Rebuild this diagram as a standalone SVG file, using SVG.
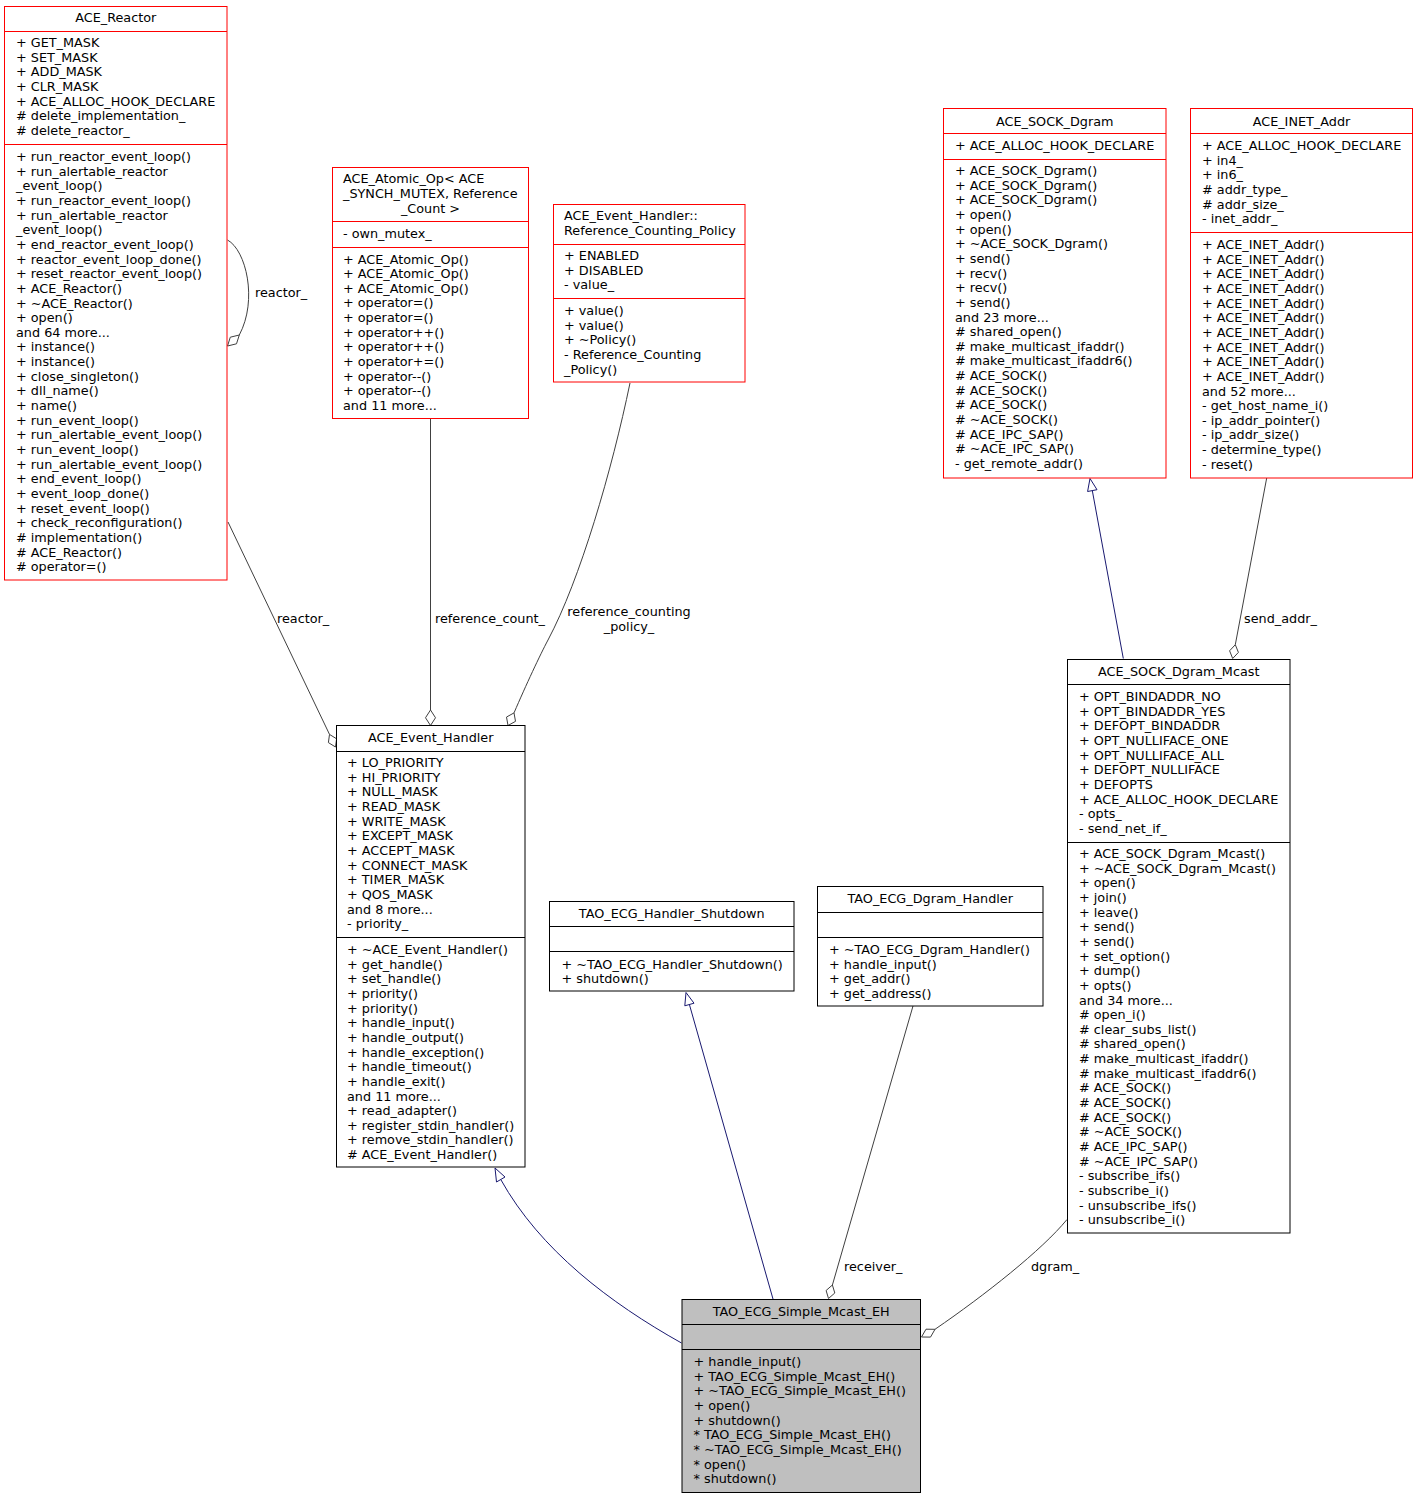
<svg xmlns="http://www.w3.org/2000/svg" width="1417" height="1499" viewBox="0 0 1417 1499">
<style>
text{font-family:"DejaVu Sans","Liberation Sans",sans-serif;font-size:12.8px;fill:#000;transform:translateY(1px)}
.m{text-anchor:middle}
.rb{fill:#fff;stroke:#ff0000;stroke-width:1}
.kb{fill:#fff;stroke:#000;stroke-width:1}
.gb{fill:#bfbfbf;stroke:#000;stroke-width:1}
.rl{stroke:#ff0000;stroke-width:1}
.kl{stroke:#000;stroke-width:1}
.e{fill:none;stroke:#404040;stroke-width:1}
.i{fill:none;stroke:#191970;stroke-width:1}
.d{fill:#fff;stroke:#404040;stroke-width:1}
.t{fill:#fff;stroke:#191970;stroke-width:1}
</style>
<rect width="1417" height="1499" fill="#fff"/>
<g id="connectors">
<path class="e" d="M227.5,240 C246,250 258,300 239.3,335"/>
<polygon class="d" points="227.5,346 236.5,343.8 239.3,335 230.3,337.2"/>
<text x="255" y="296">reactor_</text>
<path class="e" d="M228,522 L329.5,734.4"/>
<polygon class="d" points="335.5,747 336.6,738.8 329.5,734.4 328.4,742.6"/>
<text x="277" y="622">reactor_</text>
<path class="e" d="M430.5,419 L430.5,710"/>
<polygon class="d" points="430.5,725.5 435.5,717.75 430.5,710 425.5,717.75"/>
<text x="435" y="622">reference_count_</text>
<path class="e" d="M630,383 C612,470 580,580 548,640 C540,655 526,685 514,712.9"/>
<polygon class="d" points="508,725.5 515.5,721.35 514,712.9 506.5,717.05"/>
<text class="m" x="629" y="615">reference_counting</text>
<text class="m" x="629" y="630">_policy_</text>
<path class="e" d="M1266.7,478 L1235.3,644.7"/>
<polygon class="d" points="1232.7,658.5 1238.4,652.4 1235.3,644.7 1229.6,650.8"/>
<text x="1244" y="622">send_addr_</text>
<path class="e" d="M913,1006 L832.4,1285"/>
<polygon class="d" points="828.5,1298.5 834.8,1293 832.4,1285 826.1,1290.5"/>
<text x="844" y="1269.5">receiver_</text>
<path class="e" d="M1067,1219.5 C1042,1250 985,1295 935,1329.3"/>
<polygon class="d" points="921.5,1337 930.5,1337.1 935,1329.3 926,1329.2"/>
<text x="1031" y="1269.5">dgram_</text>
<path class="i" d="M681.5,1343 C610,1303 540,1250 500.75,1179.5"/>
<polygon class="t" points="495,1168 496.5,1182 505,1177"/>
<path class="i" d="M773,1299 L689.4,1004.5"/>
<polygon class="t" points="686,992.5 694,1003.2 684.8,1005.8"/>
<path class="i" d="M1123.3,658.5 L1092.3,490.6"/>
<polygon class="t" points="1090,478.5 1097,489.7 1087.6,491.5"/>
</g>
<g id="ACE_Reactor">
<rect class="rb" x="4.5" y="6.5" width="222.5" height="573.5"/>
<line class="rl" x1="4.5" y1="31.5" x2="227" y2="31.5"/>
<line class="rl" x1="4.5" y1="144.5" x2="227" y2="144.5"/>
<text class="m" x="115.75" y="21">ACE_Reactor</text>
<text x="16" y="46"><tspan x="16">+ GET_MASK</tspan><tspan x="16" dy="14.65">+ SET_MASK</tspan><tspan x="16" dy="14.65">+ ADD_MASK</tspan><tspan x="16" dy="14.65">+ CLR_MASK</tspan><tspan x="16" dy="14.65">+ ACE_ALLOC_HOOK_DECLARE</tspan><tspan x="16" dy="14.65"># delete_implementation_</tspan><tspan x="16" dy="14.65"># delete_reactor_</tspan></text>
<text x="16" y="160"><tspan x="16">+ run_reactor_event_loop()</tspan><tspan x="16" dy="14.65">+ run_alertable_reactor</tspan><tspan x="16" dy="14.65">_event_loop()</tspan><tspan x="16" dy="14.65">+ run_reactor_event_loop()</tspan><tspan x="16" dy="14.65">+ run_alertable_reactor</tspan><tspan x="16" dy="14.65">_event_loop()</tspan><tspan x="16" dy="14.65">+ end_reactor_event_loop()</tspan><tspan x="16" dy="14.65">+ reactor_event_loop_done()</tspan><tspan x="16" dy="14.65">+ reset_reactor_event_loop()</tspan><tspan x="16" dy="14.65">+ ACE_Reactor()</tspan><tspan x="16" dy="14.65">+ ~ACE_Reactor()</tspan><tspan x="16" dy="14.65">+ open()</tspan><tspan x="16" dy="14.65">and 64 more...</tspan><tspan x="16" dy="14.65">+ instance()</tspan><tspan x="16" dy="14.65">+ instance()</tspan><tspan x="16" dy="14.65">+ close_singleton()</tspan><tspan x="16" dy="14.65">+ dll_name()</tspan><tspan x="16" dy="14.65">+ name()</tspan><tspan x="16" dy="14.65">+ run_event_loop()</tspan><tspan x="16" dy="14.65">+ run_alertable_event_loop()</tspan><tspan x="16" dy="14.65">+ run_event_loop()</tspan><tspan x="16" dy="14.65">+ run_alertable_event_loop()</tspan><tspan x="16" dy="14.65">+ end_event_loop()</tspan><tspan x="16" dy="14.65">+ event_loop_done()</tspan><tspan x="16" dy="14.65">+ reset_event_loop()</tspan><tspan x="16" dy="14.65">+ check_reconfiguration()</tspan><tspan x="16" dy="14.65"># implementation()</tspan><tspan x="16" dy="14.65"># ACE_Reactor()</tspan><tspan x="16" dy="14.65"># operator=()</tspan></text>
</g>
<g id="ACE_Atomic_Op">
<rect class="rb" x="332.5" y="167.5" width="196" height="251"/>
<line class="rl" x1="332.5" y1="221.5" x2="528.5" y2="221.5"/>
<line class="rl" x1="332.5" y1="247.5" x2="528.5" y2="247.5"/>
<text x="343" y="182">ACE_Atomic_Op&lt; ACE</text>
<text x="343" y="197">_SYNCH_MUTEX, Reference</text>
<text class="m" x="430.5" y="212">_Count &gt;</text>
<text x="343" y="237">- own_mutex_</text>
<text x="343" y="262.5"><tspan x="343">+ ACE_Atomic_Op()</tspan><tspan x="343" dy="14.65">+ ACE_Atomic_Op()</tspan><tspan x="343" dy="14.65">+ ACE_Atomic_Op()</tspan><tspan x="343" dy="14.65">+ operator=()</tspan><tspan x="343" dy="14.65">+ operator=()</tspan><tspan x="343" dy="14.65">+ operator++()</tspan><tspan x="343" dy="14.65">+ operator++()</tspan><tspan x="343" dy="14.65">+ operator+=()</tspan><tspan x="343" dy="14.65">+ operator--()</tspan><tspan x="343" dy="14.65">+ operator--()</tspan><tspan x="343" dy="14.65">and 11 more...</tspan></text>
</g>
<g id="Reference_Counting_Policy">
<rect class="rb" x="553.5" y="204.5" width="191.5" height="177.5"/>
<line class="rl" x1="553.5" y1="244.5" x2="745" y2="244.5"/>
<line class="rl" x1="553.5" y1="298.5" x2="745" y2="298.5"/>
<text x="564" y="219">ACE_Event_Handler::</text>
<text x="564" y="234">Reference_Counting_Policy</text>
<text x="564" y="259"><tspan x="564">+ ENABLED</tspan><tspan x="564" dy="14.65">+ DISABLED</tspan><tspan x="564" dy="14.65">- value_</tspan></text>
<text x="564" y="314"><tspan x="564">+ value()</tspan><tspan x="564" dy="14.65">+ value()</tspan><tspan x="564" dy="14.65">+ ~Policy()</tspan><tspan x="564" dy="14.65">- Reference_Counting</tspan><tspan x="564" dy="14.65">_Policy()</tspan></text>
</g>
<g id="ACE_SOCK_Dgram">
<rect class="rb" x="943.5" y="108.5" width="222.5" height="369.5"/>
<line class="rl" x1="943.5" y1="133.5" x2="1166" y2="133.5"/>
<line class="rl" x1="943.5" y1="159.5" x2="1166" y2="159.5"/>
<text class="m" x="1054.75" y="124.5">ACE_SOCK_Dgram</text>
<text x="955" y="149">+ ACE_ALLOC_HOOK_DECLARE</text>
<text x="955" y="174"><tspan x="955">+ ACE_SOCK_Dgram()</tspan><tspan x="955" dy="14.65">+ ACE_SOCK_Dgram()</tspan><tspan x="955" dy="14.65">+ ACE_SOCK_Dgram()</tspan><tspan x="955" dy="14.65">+ open()</tspan><tspan x="955" dy="14.65">+ open()</tspan><tspan x="955" dy="14.65">+ ~ACE_SOCK_Dgram()</tspan><tspan x="955" dy="14.65">+ send()</tspan><tspan x="955" dy="14.65">+ recv()</tspan><tspan x="955" dy="14.65">+ recv()</tspan><tspan x="955" dy="14.65">+ send()</tspan><tspan x="955" dy="14.65">and 23 more...</tspan><tspan x="955" dy="14.65"># shared_open()</tspan><tspan x="955" dy="14.65"># make_multicast_ifaddr()</tspan><tspan x="955" dy="14.65"># make_multicast_ifaddr6()</tspan><tspan x="955" dy="14.65"># ACE_SOCK()</tspan><tspan x="955" dy="14.65"># ACE_SOCK()</tspan><tspan x="955" dy="14.65"># ACE_SOCK()</tspan><tspan x="955" dy="14.65"># ~ACE_SOCK()</tspan><tspan x="955" dy="14.65"># ACE_IPC_SAP()</tspan><tspan x="955" dy="14.65"># ~ACE_IPC_SAP()</tspan><tspan x="955" dy="14.65">- get_remote_addr()</tspan></text>
</g>
<g id="ACE_INET_Addr">
<rect class="rb" x="1190.5" y="108.5" width="222" height="369.5"/>
<line class="rl" x1="1190.5" y1="133.5" x2="1412.5" y2="133.5"/>
<line class="rl" x1="1190.5" y1="232.5" x2="1412.5" y2="232.5"/>
<text class="m" x="1301.5" y="124.5">ACE_INET_Addr</text>
<text x="1202" y="149"><tspan x="1202">+ ACE_ALLOC_HOOK_DECLARE</tspan><tspan x="1202" dy="14.65">+ in4_</tspan><tspan x="1202" dy="14.65">+ in6_</tspan><tspan x="1202" dy="14.65"># addr_type_</tspan><tspan x="1202" dy="14.65"># addr_size_</tspan><tspan x="1202" dy="14.65">- inet_addr_</tspan></text>
<text x="1202" y="248"><tspan x="1202">+ ACE_INET_Addr()</tspan><tspan x="1202" dy="14.65">+ ACE_INET_Addr()</tspan><tspan x="1202" dy="14.65">+ ACE_INET_Addr()</tspan><tspan x="1202" dy="14.65">+ ACE_INET_Addr()</tspan><tspan x="1202" dy="14.65">+ ACE_INET_Addr()</tspan><tspan x="1202" dy="14.65">+ ACE_INET_Addr()</tspan><tspan x="1202" dy="14.65">+ ACE_INET_Addr()</tspan><tspan x="1202" dy="14.65">+ ACE_INET_Addr()</tspan><tspan x="1202" dy="14.65">+ ACE_INET_Addr()</tspan><tspan x="1202" dy="14.65">+ ACE_INET_Addr()</tspan><tspan x="1202" dy="14.65">and 52 more...</tspan><tspan x="1202" dy="14.65">- get_host_name_i()</tspan><tspan x="1202" dy="14.65">- ip_addr_pointer()</tspan><tspan x="1202" dy="14.65">- ip_addr_size()</tspan><tspan x="1202" dy="14.65">- determine_type()</tspan><tspan x="1202" dy="14.65">- reset()</tspan></text>
</g>
<g id="ACE_Event_Handler">
<rect class="kb" x="336.5" y="725.5" width="188.5" height="441.5"/>
<line class="kl" x1="336.5" y1="751.5" x2="525" y2="751.5"/>
<line class="kl" x1="336.5" y1="937.5" x2="525" y2="937.5"/>
<text class="m" x="430.75" y="740.5">ACE_Event_Handler</text>
<text x="347" y="766"><tspan x="347">+ LO_PRIORITY</tspan><tspan x="347" dy="14.65">+ HI_PRIORITY</tspan><tspan x="347" dy="14.65">+ NULL_MASK</tspan><tspan x="347" dy="14.65">+ READ_MASK</tspan><tspan x="347" dy="14.65">+ WRITE_MASK</tspan><tspan x="347" dy="14.65">+ EXCEPT_MASK</tspan><tspan x="347" dy="14.65">+ ACCEPT_MASK</tspan><tspan x="347" dy="14.65">+ CONNECT_MASK</tspan><tspan x="347" dy="14.65">+ TIMER_MASK</tspan><tspan x="347" dy="14.65">+ QOS_MASK</tspan><tspan x="347" dy="14.65">and 8 more...</tspan><tspan x="347" dy="14.65">- priority_</tspan></text>
<text x="347" y="953"><tspan x="347">+ ~ACE_Event_Handler()</tspan><tspan x="347" dy="14.65">+ get_handle()</tspan><tspan x="347" dy="14.65">+ set_handle()</tspan><tspan x="347" dy="14.65">+ priority()</tspan><tspan x="347" dy="14.65">+ priority()</tspan><tspan x="347" dy="14.65">+ handle_input()</tspan><tspan x="347" dy="14.65">+ handle_output()</tspan><tspan x="347" dy="14.65">+ handle_exception()</tspan><tspan x="347" dy="14.65">+ handle_timeout()</tspan><tspan x="347" dy="14.65">+ handle_exit()</tspan><tspan x="347" dy="14.65">and 11 more...</tspan><tspan x="347" dy="14.65">+ read_adapter()</tspan><tspan x="347" dy="14.65">+ register_stdin_handler()</tspan><tspan x="347" dy="14.65">+ remove_stdin_handler()</tspan><tspan x="347" dy="14.65"># ACE_Event_Handler()</tspan></text>
</g>
<g id="TAO_ECG_Handler_Shutdown">
<rect class="kb" x="549.5" y="901.5" width="244.5" height="89.5"/>
<line class="kl" x1="549.5" y1="926.5" x2="794" y2="926.5"/>
<line class="kl" x1="549.5" y1="951.5" x2="794" y2="951.5"/>
<text class="m" x="671.75" y="917">TAO_ECG_Handler_Shutdown</text>
<text x="561.5" y="967.5"><tspan x="561.5">+ ~TAO_ECG_Handler_Shutdown()</tspan><tspan x="561.5" dy="14.65">+ shutdown()</tspan></text>
</g>
<g id="TAO_ECG_Dgram_Handler">
<rect class="kb" x="817.5" y="886.5" width="225.5" height="119.5"/>
<line class="kl" x1="817.5" y1="912.5" x2="1043" y2="912.5"/>
<line class="kl" x1="817.5" y1="937.5" x2="1043" y2="937.5"/>
<text class="m" x="930.25" y="902">TAO_ECG_Dgram_Handler</text>
<text x="829" y="953"><tspan x="829">+ ~TAO_ECG_Dgram_Handler()</tspan><tspan x="829" dy="14.65">+ handle_input()</tspan><tspan x="829" dy="14.65">+ get_addr()</tspan><tspan x="829" dy="14.65">+ get_address()</tspan></text>
</g>
<g id="ACE_SOCK_Dgram_Mcast">
<rect class="kb" x="1067.5" y="659.5" width="222.5" height="573.5"/>
<line class="kl" x1="1067.5" y1="684.5" x2="1290" y2="684.5"/>
<line class="kl" x1="1067.5" y1="842.5" x2="1290" y2="842.5"/>
<text class="m" x="1178.75" y="674.5">ACE_SOCK_Dgram_Mcast</text>
<text x="1079" y="700"><tspan x="1079">+ OPT_BINDADDR_NO</tspan><tspan x="1079" dy="14.65">+ OPT_BINDADDR_YES</tspan><tspan x="1079" dy="14.65">+ DEFOPT_BINDADDR</tspan><tspan x="1079" dy="14.65">+ OPT_NULLIFACE_ONE</tspan><tspan x="1079" dy="14.65">+ OPT_NULLIFACE_ALL</tspan><tspan x="1079" dy="14.65">+ DEFOPT_NULLIFACE</tspan><tspan x="1079" dy="14.65">+ DEFOPTS</tspan><tspan x="1079" dy="14.65">+ ACE_ALLOC_HOOK_DECLARE</tspan><tspan x="1079" dy="14.65">- opts_</tspan><tspan x="1079" dy="14.65">- send_net_if_</tspan></text>
<text x="1079" y="857"><tspan x="1079">+ ACE_SOCK_Dgram_Mcast()</tspan><tspan x="1079" dy="14.65">+ ~ACE_SOCK_Dgram_Mcast()</tspan><tspan x="1079" dy="14.65">+ open()</tspan><tspan x="1079" dy="14.65">+ join()</tspan><tspan x="1079" dy="14.65">+ leave()</tspan><tspan x="1079" dy="14.65">+ send()</tspan><tspan x="1079" dy="14.65">+ send()</tspan><tspan x="1079" dy="14.65">+ set_option()</tspan><tspan x="1079" dy="14.65">+ dump()</tspan><tspan x="1079" dy="14.65">+ opts()</tspan><tspan x="1079" dy="14.65">and 34 more...</tspan><tspan x="1079" dy="14.65"># open_i()</tspan><tspan x="1079" dy="14.65"># clear_subs_list()</tspan><tspan x="1079" dy="14.65"># shared_open()</tspan><tspan x="1079" dy="14.65"># make_multicast_ifaddr()</tspan><tspan x="1079" dy="14.65"># make_multicast_ifaddr6()</tspan><tspan x="1079" dy="14.65"># ACE_SOCK()</tspan><tspan x="1079" dy="14.65"># ACE_SOCK()</tspan><tspan x="1079" dy="14.65"># ACE_SOCK()</tspan><tspan x="1079" dy="14.65"># ~ACE_SOCK()</tspan><tspan x="1079" dy="14.65"># ACE_IPC_SAP()</tspan><tspan x="1079" dy="14.65"># ~ACE_IPC_SAP()</tspan><tspan x="1079" dy="14.65">- subscribe_ifs()</tspan><tspan x="1079" dy="14.65">- subscribe_i()</tspan><tspan x="1079" dy="14.65">- unsubscribe_ifs()</tspan><tspan x="1079" dy="14.65">- unsubscribe_i()</tspan></text>
</g>
<g id="TAO_ECG_Simple_Mcast_EH">
<rect class="gb" x="682" y="1299.5" width="238.5" height="193"/>
<line class="kl" x1="682" y1="1324.5" x2="920.5" y2="1324.5"/>
<line class="kl" x1="682" y1="1349.5" x2="920.5" y2="1349.5"/>
<text class="m" x="801.25" y="1315">TAO_ECG_Simple_Mcast_EH</text>
<text x="693.5" y="1365"><tspan x="693.5">+ handle_input()</tspan><tspan x="693.5" dy="14.65">+ TAO_ECG_Simple_Mcast_EH()</tspan><tspan x="693.5" dy="14.65">+ ~TAO_ECG_Simple_Mcast_EH()</tspan><tspan x="693.5" dy="14.65">+ open()</tspan><tspan x="693.5" dy="14.65">+ shutdown()</tspan><tspan x="693.5" dy="14.65">* TAO_ECG_Simple_Mcast_EH()</tspan><tspan x="693.5" dy="14.65">* ~TAO_ECG_Simple_Mcast_EH()</tspan><tspan x="693.5" dy="14.65">* open()</tspan><tspan x="693.5" dy="14.65">* shutdown()</tspan></text>
</g>
</svg>
